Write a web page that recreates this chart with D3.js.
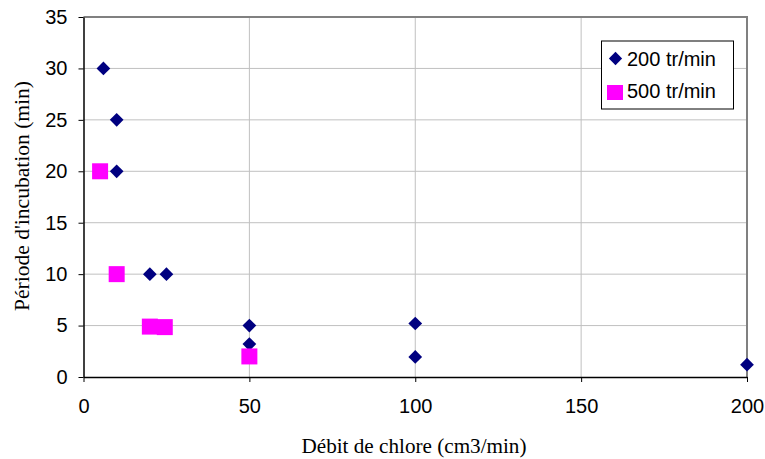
<!DOCTYPE html>
<html><head><meta charset="utf-8">
<script src="https://cdn.jsdelivr.net/npm/d3@7"></script>
<style>body{margin:0;background:#fff}svg{display:block}</style>
</head><body>
<script>
const xTicks = [0, 50, 100, 150, 200];
const yTicks = [0, 5, 10, 15, 20, 25, 30, 35];
const s200x = [6, 10, 10, 20, 25, 50, 50, 100, 100, 200];
const s200y = [30, 25, 20, 10, 10, 5, 3.2, 5.2, 1.95, 1.2];
const s500x = [5, 10, 20, 24.5, 50];
const s500y = [20, 10, 4.9, 4.85, 2];
const seriesNames = ["200 tr/min", "500 tr/min"];
const xTitle = "Débit de chlore (cm3/min)";
const yTitle = "Période d'incubation (min)";

const W = 765, H = 459;
const m = {l: 83.5, r: 747, t: 17, b: 377};
const svg = d3.select("body").append("svg").attr("width", W).attr("height", H);
const x = d3.scaleLinear().domain([0, 200]).range([m.l, m.r]);
const y = d3.scaleLinear().domain([0, 35]).range([m.b, m.t]);

// grid
svg.append("g").selectAll("line").data(xTicks.slice(1)).join("line")
  .attr("x1", d => x(d)).attr("x2", d => x(d)).attr("y1", m.t).attr("y2", m.b)
  .attr("stroke", "#c0c0c0").attr("stroke-width", 1);
svg.append("g").selectAll("line").data(yTicks.slice(1)).join("line")
  .attr("y1", d => y(d)).attr("y2", d => y(d)).attr("x1", m.l).attr("x2", m.r)
  .attr("stroke", "#c0c0c0").attr("stroke-width", 1);
// frame top/right
svg.append("path").attr("d", `M${m.l},${m.t}H${m.r}V${m.b}`).attr("fill", "none")
  .attr("stroke", "#808080").attr("stroke-width", 2);

const font = "Arial, 'Liberation Sans', sans-serif";
const serif = "'Liberation Serif', 'Times New Roman', serif";
const xAxis = svg.append("g").attr("transform", `translate(0,${m.b})`)
  .call(d3.axisBottom(x).tickValues(xTicks).tickSize(5).tickSizeOuter(0).tickPadding(17));
const yAxis = svg.append("g").attr("transform", `translate(${m.l},0)`)
  .call(d3.axisLeft(y).tickValues(yTicks).tickSize(5).tickSizeOuter(0).tickPadding(11));
[xAxis, yAxis].forEach(a => {
  a.selectAll("text").attr("font-family", font).attr("font-size", 20).attr("fill", "#000");
  a.selectAll("line").attr("stroke", "#000");
  a.select(".domain").attr("stroke", "#000").attr("stroke-width", 1.5);
});

const diamond = d3.symbol().type(d3.symbolDiamond2).size(120);
svg.append("g").selectAll("path").data(d3.range(s200x.length)).join("path")
  .attr("d", diamond).attr("transform", i => `translate(${x(s200x[i])},${y(s200y[i])})`)
  .attr("fill", "#000080");
svg.append("g").selectAll("rect").data(d3.range(s500x.length)).join("rect")
  .attr("x", i => x(s500x[i]) - 8).attr("y", i => y(s500y[i]) - 8)
  .attr("width", 16).attr("height", 16).attr("fill", "#ff00ff");

// legend
const lg = svg.append("g");
lg.append("rect").attr("x", 601.5).attr("y", 41).attr("width", 132).attr("height", 68)
  .attr("fill", "#fff").attr("stroke", "#000").attr("stroke-width", 1);
lg.append("path").attr("d", d3.symbol().type(d3.symbolDiamond2).size(112))
  .attr("transform", "translate(615.5,58.5)").attr("fill", "#000080");
lg.append("rect").attr("x", 607).attr("y", 85).attr("width", 16).attr("height", 15).attr("fill", "#ff00ff");
lg.selectAll("text").data(seriesNames).join("text")
  .attr("x", 627).attr("y", (d, i) => 66 + i * 32)
  .attr("font-family", font).attr("font-size", 20).text(d => d);

svg.append("text").attr("x", 414).attr("y", 453).attr("text-anchor", "middle")
  .attr("font-family", serif).attr("font-size", 21)
  .attr("textLength", 225).attr("lengthAdjust", "spacingAndGlyphs").text(xTitle);
svg.append("text").attr("transform", `translate(29,196) rotate(-90)`).attr("text-anchor", "middle")
  .attr("font-family", serif).attr("font-size", 21)
  .attr("textLength", 230).attr("lengthAdjust", "spacingAndGlyphs").text(yTitle);
</script>
</body></html>
